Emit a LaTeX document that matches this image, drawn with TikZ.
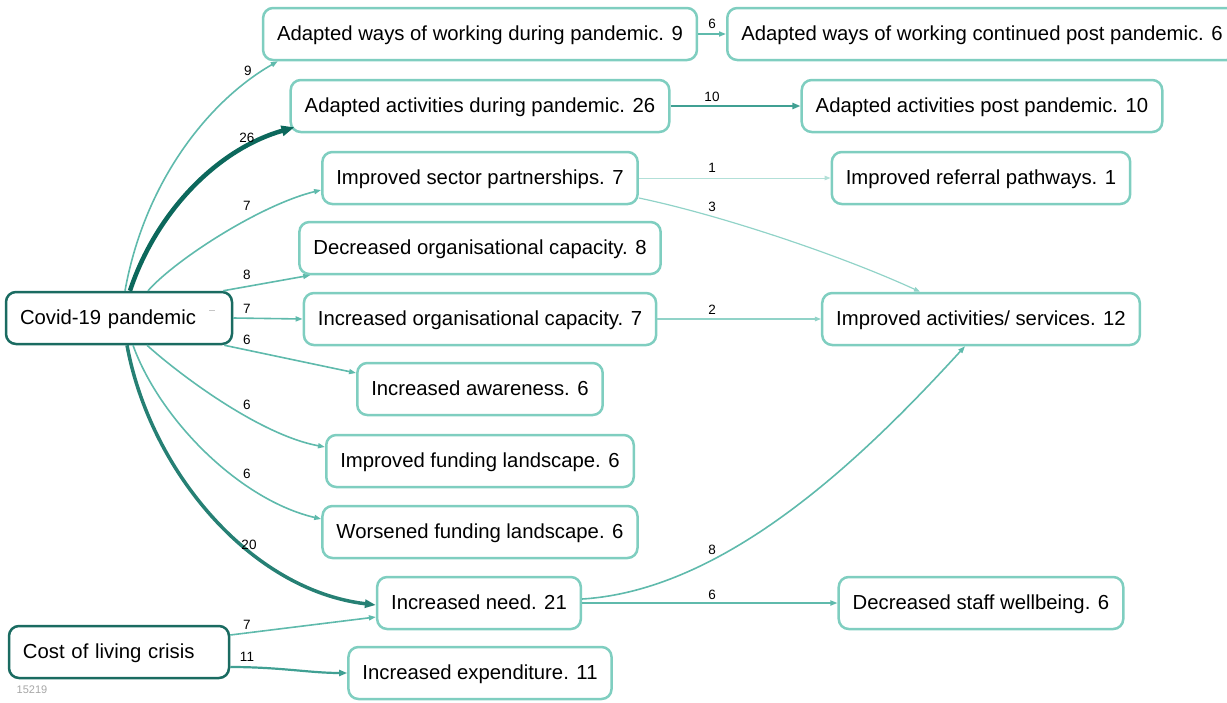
\documentclass[tikz,border=0pt]{standalone}
\usepackage{fontspec}
\setmainfont{Liberation Sans}
\usetikzlibrary{arrows.meta}

\definecolor{boxlight}{RGB}{127,206,192}
\definecolor{boxdark}{RGB}{26,107,97}
\definecolor{edgeA}{RGB}{178,224,216}
\definecolor{edgeB}{RGB}{145,211,200}
\definecolor{edgeC}{RGB}{95,186,172}
\definecolor{edgeD}{RGB}{64,160,147}
\definecolor{edgeE}{RGB}{38,128,116}
\definecolor{edgeF}{RGB}{12,104,92}

\begin{document}
\begin{tikzpicture}[x=1pt,y=-1pt,
  box/.style={draw=boxlight, line width=2.5pt, rounded corners=10pt, fill=white,
    inner xsep=14pt, inner ysep=0pt, minimum height=52pt,
    text height=18pt, text depth=4.3pt,
    font=\fontsize{20.3}{24}\selectfont, text=black},
  src/.style={box, draw=boxdark, align=left},
  cnt/.style={font=\fontsize{13.5}{16}\selectfont, inner sep=0pt, text=black},
  wone/.style={draw=edgeA, line width=1pt, -{Triangle[length=6pt,width=4.5pt]}},
  wfew/.style={draw=edgeB, line width=1.2pt, -{Triangle[length=6pt,width=4.5pt]}},
  wmid/.style={draw=edgeC, line width=1.6pt, -{Triangle[length=7pt,width=5pt]}},
  wten/.style={draw=edgeD, line width=2.2pt, -{Triangle[length=8pt,width=6pt]}},
  wtwenty/.style={draw=edgeE, line width=3.5pt, -{Triangle[length=11pt,width=8pt]}},
  wmax/.style={draw=edgeF, line width=4.5pt, -{Triangle[length=13pt,width=10pt]}}
]
\useasboundingbox (0,0) rectangle (1227,702);

% source nodes
\node[src, text width=198pt] (cov) at (119,318) {Covid-19 pandemic};
\node[src, text width=192pt] (col) at (119,652) {Cost of living crisis};

% middle column
\node[box] (wd) at (480,34) {Adapted ways of working during pandemic. 9};
\node[box] (ad) at (480,106) {Adapted activities during pandemic. 26};
\node[box] (sp) at (480,178) {Improved sector partnerships. 7};
\node[box] (dc) at (480,248) {Decreased organisational capacity. 8};
\node[box] (ic) at (480,319) {Increased organisational capacity. 7};
\node[box] (aw) at (480,389) {Increased awareness. 6};
\node[box] (if) at (480,461) {Improved funding landscape. 6};
\node[box] (wf) at (480,532) {Worsened funding landscape. 6};
\node[box] (in) at (479,603) {Increased need. 21};
\node[box] (ie) at (480,673) {Increased expenditure. 11};

% right column
\node[box] (wc) at (982,34) {Adapted ways of working continued post pandemic. 6};
\node[box] (ap) at (982,106) {Adapted activities post pandemic. 10};
\node[box] (rp) at (981,178) {Improved referral pathways. 1};
\node[box] (ia) at (981,319) {Improved activities/ services. 12};
\node[box] (ds) at (981,603) {Decreased staff wellbeing. 6};

% links out of the pandemic
\draw[wmid] ([xshift=6pt]cov.north) .. controls (145,180) and (210,100) .. ([xshift=16pt]wd.south west);
\draw[wmax] ([xshift=11pt]cov.north) .. controls (155,215) and (215,150) .. ([xshift=5pt,yshift=6pt]ad.south west);
\draw[wmid] ([xshift=29pt]cov.north) .. controls (175,260) and (260,205) .. ([yshift=-12pt]sp.west);
\draw[wmid] ([xshift=-10pt]cov.north east) -- ([xshift=12pt]dc.south west);
\draw[wmid] (cov.east) -- (ic.west);
\draw[wmid] ([xshift=-9pt]cov.south east) -- ([yshift=16pt]aw.west);
\draw[wmid] ([xshift=28pt]cov.south) .. controls (180,375) and (260,435) .. ([yshift=14pt]if.west);
\draw[wmid] ([xshift=14pt]cov.south) .. controls (160,420) and (240,500) .. ([yshift=13pt]wf.west);
\draw[wtwenty] ([xshift=8pt]cov.south) .. controls (150,470) and (250,590) .. ([yshift=-2pt]in.west);

% links out of the cost of living crisis
\draw[wmid] ([yshift=17pt]col.east) -- ([yshift=-14pt]in.west);
\draw[wten] ([yshift=-15pt]col.east) .. controls (280,667) and (310,673) .. (ie.west);

% second-stage links
\draw[wmid] (wd.east) -- (wc.west);
\draw[wten] (ad.east) -- (ap.west);
\draw[wone] (sp.east) -- (rp.west);
\draw[wfew] ([yshift=-20pt]sp.east) .. controls (720,215) and (840,255) .. ([xshift=-61pt]ia.north);
\draw[wfew] (ic.east) -- (ia.west);
\draw[wmid] ([yshift=4pt]in.east) .. controls (730,590) and (870,450) .. ([xshift=-16pt]ia.south);
\draw[wmid] (in.east) -- (ds.west);

% link counts
\node[cnt] (n1) at (248,71) {9};
\node[cnt] (n2) at (247,138) {26};
\node[cnt] (n3) at (247,206) {7};
\node[cnt] (n4) at (247,275) {8};
\node[cnt] (n5) at (247,309) {7};
\node[cnt] (n6) at (247,340) {6};
\node[cnt] (n7) at (247,405) {6};
\node[cnt] (n8) at (247,474) {6};
\node[cnt] (n9) at (249,545) {20};
\node[cnt] (n10) at (247,625) {7};
\node[cnt] (n11) at (247,657) {11};
\node[cnt] (n12) at (712,24) {6};
\node[cnt] (n13) at (712,97) {10};
\node[cnt] (n14) at (712,168) {1};
\node[cnt] (n15) at (712,207) {3};
\node[cnt] (n16) at (712,310) {2};
\node[cnt] (n17) at (712,550) {8};
\node[cnt] (n18) at (712,595) {6};

% small marks
\draw[gray!45, line width=1pt] (209,310) -- (215,310);
\node[font=\fontsize{11}{13}\selectfont, text=gray!70, inner sep=0pt] (id) at (32,690) {15219};
\end{tikzpicture}
\end{document}
